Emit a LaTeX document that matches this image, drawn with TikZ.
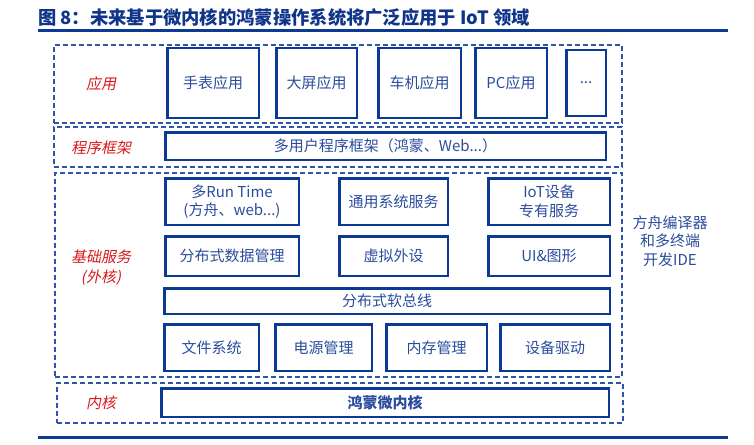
\documentclass[tikz,border=0pt]{standalone}
\usepackage{fontspec}
\setmainfont{Noto Sans CJK SC}
\newfontfamily\lblfont[FakeSlant=0.2]{Noto Sans CJK SC}
\usepackage{tikz}
\usetikzlibrary{positioning}
\definecolor{hmnavy}{HTML}{0B3A94}
\definecolor{hmtitle}{HTML}{0F348A}
\definecolor{hmtext}{HTML}{2A4C9C}
\definecolor{hmdash}{HTML}{2E55A6}
\definecolor{hmred}{HTML}{D7191C}

\begin{document}
\begin{tikzpicture}[x=1pt,y=-1pt,
  font=\fontsize{15}{18.5}\selectfont,
  grp/.style={draw=hmdash,line width=1.2pt,dash pattern=on 5pt off 3pt,inner sep=0pt},
  blk/.style={draw=hmnavy,line width=2.5pt,text=hmtext,align=center,inner sep=0pt},
  lbl/.style={text=hmred,font=\lblfont\fontsize{15}{20}\selectfont,align=center,inner sep=0pt},
  rule/.style={draw=hmnavy,line width=3pt},
]
  \useasboundingbox (0,0) rectangle (754,444);
  \node[anchor=west,inner sep=0pt,text=hmtitle,font=\bfseries\fontsize{18.3}{21}\selectfont] (title) at (38,18)
    {图 8：未来基于微内核的鸿蒙操作系统将广泛应用于 IoT 领域};
  \coordinate (toprl) at (38,31); \coordinate (toprr) at (728,31);
  \coordinate (botrl) at (38,437); \coordinate (botrr) at (728,437);
  \draw[rule] (toprl) -- (toprr);
  \draw[rule] (botrl) -- (botrr);

  \node[grp,minimum width=568pt,minimum height=78pt] (appgrp) at (338,84) {};
  \node[grp,minimum width=568pt,minimum height=40pt] (fwgrp) at (338,147) {};
  \node[grp,minimum width=567pt,minimum height=204pt] (basegrp) at (338.5,275) {};
  \node[grp,minimum width=566pt,minimum height=40pt] (kergrp) at (340,403) {};
  \node[lbl] (applbl) at (101,84) {应用};
  \node[lbl] (fwlbl) at (101,148) {程序框架};
  \node[lbl] (baselbl) at (101,268) {基础服务\\(外核)};
  \node[lbl] (kerlbl) at (101,403) {内核};

  \node[blk,minimum width=91.5pt,minimum height=69.5pt] (watch) at (213,83) {手表应用};
  \node[blk,minimum width=80.5pt,minimum height=69.5pt,right=15pt of watch] (screen) {大屏应用};
  \node[blk,minimum width=82.5pt,minimum height=69.5pt,right=19pt of screen] (car) {车机应用};
  \node[blk,minimum width=71.5pt,minimum height=69.5pt,right=12pt of car] (pc) {PC应用};
  \node[blk,minimum width=39.5pt,minimum height=65.5pt,right=17pt of pc] (more) {...};

  \node[blk,minimum width=440.5pt,minimum height=27.5pt] (fw) at (385.5,146) {多用户程序框架（鸿蒙、Web...）};

  \node[blk,minimum width=133.5pt,minimum height=46.5pt] (runtime) at (232,201.5) {多Run Time\\(方舟、web...)};
  \node[blk,minimum width=108.5pt,minimum height=46.5pt,right=38pt of runtime] (syssvc) {通用系统服务};
  \node[blk,minimum width=121.5pt,minimum height=46.5pt,right=38pt of syssvc] (iotsvc) {IoT设备\\专有服务};
  \node[blk,minimum width=133.5pt,minimum height=39.5pt,below=9pt of runtime] (distdata) {分布式数据管理};
  \node[blk,minimum width=108.5pt,minimum height=39.5pt,below=9pt of syssvc] (virtdev) {虚拟外设};
  \node[blk,minimum width=121.5pt,minimum height=39.5pt,below=9pt of iotsvc] (uigfx) {UI\&图形};
  \node[blk,minimum width=445.5pt,minimum height=25.5pt] (bus) at (387,301) {分布式软总线};

  \node[blk,minimum width=94.5pt,minimum height=46.5pt] (fs) at (211.5,347.5) {文件系统};
  \node[blk,minimum width=96.5pt,minimum height=46.5pt,right=14pt of fs] (power) {电源管理};
  \node[blk,minimum width=100.5pt,minimum height=46.5pt,right=12pt of power] (mem) {内存管理};
  \node[blk,minimum width=109.5pt,minimum height=46.5pt,right=11pt of mem] (drv) {设备驱动};

  \node[blk,minimum width=447.5pt,minimum height=28.5pt,font=\bfseries\fontsize{15}{18.5}\selectfont] (kernel) at (385,402.5) {鸿蒙微内核};

  \node[align=center,text=hmtext,inner sep=0pt] (ide) at (670,241) {方舟编译器\\和多终端\\开发IDE};
\end{tikzpicture}
\end{document}
